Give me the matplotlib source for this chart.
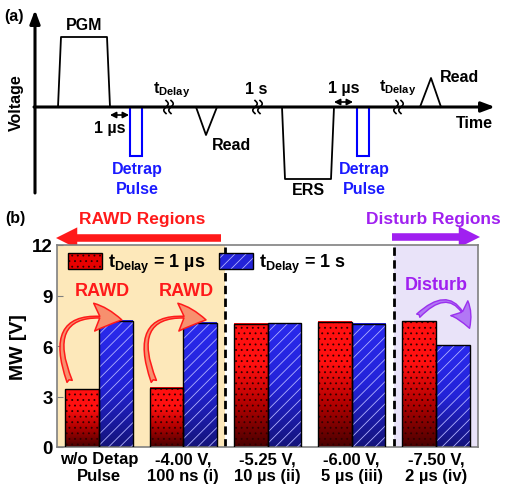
import numpy as np
import matplotlib
matplotlib.use('Agg')
import matplotlib.pyplot as plt
from matplotlib.patches import Patch, Rectangle
from matplotlib.colors import LinearSegmentedColormap

plt.rcParams['font.family'] = ['Liberation Sans', 'DejaVu Sans']
plt.rcParams['font.weight'] = 'bold'
plt.rcParams['hatch.linewidth'] = 0.6

# data for panel (b)
categories = ['w/o Detap\nPulse', '-4.00 V,\n100 ns (i)', '-5.25 V,\n10 µs (ii)',
              '-6.00 V,\n5 µs (iii)', '-7.50 V,\n2 µs (iv)']
mw_1us = [3.43, 3.52, 7.33, 7.43, 7.47]
mw_1s = [7.50, 7.37, 7.34, 7.31, 6.04]
yticks = [0, 3, 6, 9, 12]

RED = '#ff1a1a'
PURPLE = '#a020f0'
BLUE_TXT = '#1a1aff'
TD = r'$\mathregular{t_{Delay}}$'

fig = plt.figure(figsize=(5.09, 4.85), dpi=100)

# overlay in pixel coords for schematic (a) and headers of (b)
ax0 = fig.add_axes([0, 0, 1, 1])
ax0.set_xlim(0, 509)
ax0.set_ylim(485, 0)
ax0.axis('off')

fs_a = 11.5
ax0.text(4, 16, '(a)', fontsize=fs_a, ha='left', va='center')
ax0.annotate('', xy=(35, 11), xytext=(35, 194),
             arrowprops=dict(arrowstyle='-|>,head_length=0.8,head_width=0.3', lw=2.2, color='k', shrinkA=0, shrinkB=0))
ax0.annotate('', xy=(495, 108), xytext=(34, 108),
             arrowprops=dict(arrowstyle='-|>,head_length=0.8,head_width=0.3', lw=2.2, color='k', shrinkA=0, shrinkB=0))
ax0.text(16, 103, 'Voltage', fontsize=fs_a, rotation=90, ha='center', va='center')
ax0.text(474, 124, 'Time', fontsize=fs_a, ha='center', va='center')

# pulses
ax0.plot([58, 61, 107, 110], [108, 38, 38, 108], color='k', lw=1.3)
ax0.text(84, 26, 'PGM', fontsize=fs_a, ha='center', va='center')
ax0.add_patch(Rectangle((130, 108), 12, 49, fill=False, ec='#0000ff', lw=1.5))
ax0.add_patch(Rectangle((357, 108), 12, 49, fill=False, ec='#0000ff', lw=1.5))
for xc in [137, 364]:
    ax0.text(xc, 170, 'Detrap', fontsize=fs_a, color=BLUE_TXT, ha='center', va='center')
    ax0.text(xc, 190, 'Pulse', fontsize=fs_a, color=BLUE_TXT, ha='center', va='center')
ax0.plot([196, 206, 217], [108, 136, 108], color='k', lw=1.3)
ax0.text(212, 146, 'Read', fontsize=fs_a, ha='left', va='center')
ax0.plot([282, 285, 331, 334], [108, 180, 180, 108], color='k', lw=1.3)
ax0.text(308, 191, 'ERS', fontsize=fs_a, ha='center', va='center')
ax0.plot([420, 431, 441], [108, 79, 108], color='k', lw=1.3)
ax0.text(440, 77, 'Read', fontsize=fs_a, ha='left', va='center')

# 1 us spacings
ax0.annotate('', xy=(110, 116), xytext=(129, 116),
             arrowprops=dict(arrowstyle='<|-|>,head_length=0.35,head_width=0.18', lw=1.2, color='k', shrinkA=0, shrinkB=0))
ax0.text(110, 128, '1 µs', fontsize=fs_a, ha='center', va='center')
ax0.annotate('', xy=(334, 103), xytext=(353, 103),
             arrowprops=dict(arrowstyle='<|-|>,head_length=0.35,head_width=0.18', lw=1.2, color='k', shrinkA=0, shrinkB=0))
ax0.text(344, 88, '1 µs', fontsize=fs_a, ha='center', va='center')

# axis breaks
t = np.linspace(-1, 1, 40)
for xb in [166, 255, 396]:
    for dx in [0, 5]:
        ax0.plot(xb + dx - 2.2 * np.sin(np.pi * t), 108 + 6.5 * t, color='k', lw=1.2)
ax0.text(153, 90, TD, fontsize=fs_a, ha='left', va='center')
ax0.text(379, 88, TD, fontsize=fs_a, ha='left', va='center')
ax0.text(256, 90, '1 s', fontsize=fs_a, ha='center', va='center')

# headers of (b)
ax0.text(5, 219, '(b)', fontsize=fs_a, ha='left', va='center')
ax0.text(142, 220, 'RAWD Regions', fontsize=12.5, color=RED, ha='center', va='center')
ax0.annotate('', xy=(56, 239), xytext=(221, 239),
             arrowprops=dict(arrowstyle='simple,head_length=0.9,head_width=0.9,tail_width=0.32',
                             mutation_scale=17, color=RED, lw=0, shrinkA=0, shrinkB=0))
ax0.text(433, 220, 'Disturb Regions', fontsize=12.5, color=PURPLE, ha='center', va='center')
ax0.annotate('', xy=(480, 238), xytext=(392, 238),
             arrowprops=dict(arrowstyle='simple,head_length=0.9,head_width=0.9,tail_width=0.32',
                             mutation_scale=17, color=PURPLE, lw=0, shrinkA=0, shrinkB=0))

# panel (b)
ax = fig.add_axes([57 / 509, 37 / 485, 421 / 509, 202 / 485])
x = np.arange(len(categories))
w = 0.4
ax.axvspan(-0.5, 1.5, color='#fde8ba', zorder=0, lw=0)
ax.axvspan(3.5, 4.5, color='#e9e3f9', zorder=0, lw=0)

red_cmap = LinearSegmentedColormap.from_list('r', ['#480000', '#b00000', '#ff1010', '#ff1010'])
blue_cmap = LinearSegmentedColormap.from_list('b', ['#14147a', '#2323d8', '#2a2aee'])
grad = np.linspace(0, 1, 256).reshape(-1, 1)

bars_r = ax.bar(x - w / 2, mw_1us, w, fill=False, hatch='...', edgecolor='#300000', lw=0, zorder=3)
bars_b = ax.bar(x + w / 2, mw_1s, w, fill=False, hatch='///', edgecolor='#b0b0ff', lw=0, zorder=3)
for bars, cm in [(bars_r, red_cmap), (bars_b, blue_cmap)]:
    for r in bars:
        x0 = r.get_x()
        ax.imshow(grad, extent=(x0, x0 + r.get_width(), 0, r.get_height()), origin='lower',
                  cmap=cm, aspect='auto', zorder=2)
ax.bar(x - w / 2, mw_1us, w, fill=False, edgecolor='k', lw=1.0, zorder=4)
ax.bar(x + w / 2, mw_1s, w, fill=False, edgecolor='k', lw=1.0, zorder=4)

ax.axvline(1.5, color='k', ls=(0, (3, 1.6)), lw=2, zorder=1)
ax.axvline(3.5, color='k', ls=(0, (3, 1.6)), lw=2, zorder=1)

ax.set_xlim(-0.5, 4.5)
ax.set_ylim(0, 12)
ax.set_yticks(yticks)
ax.set_yticklabels([str(v) for v in yticks], fontsize=13.5)
ax.set_xticks(x)
ax.set_xticklabels(categories, fontsize=12, linespacing=1.15)
ax.tick_params(axis='x', length=0, pad=3)
ax.tick_params(axis='y', direction='in', length=4, color='#808080', pad=3)
for s in ax.spines.values():
    s.set_color('#808080')
    s.set_linewidth(1.2)
ax.set_ylabel('MW [V]', fontsize=14, fontweight='bold', labelpad=4)

# annotations
for g in [0, 1]:
    ax.text(g + 0.04, 9.27, 'RAWD', fontsize=13, color=RED, ha='center', va='center', zorder=6)
    ax.annotate('', xy=(g + 0.27, 7.55), xytext=(g - 0.35, 3.9),
                arrowprops=dict(arrowstyle='fancy,head_length=1.25,head_width=1.25,tail_width=0.25',
                                connectionstyle='arc3,rad=-0.9', mutation_scale=16,
                                fc='#f7906e', ec=RED, lw=1.1, shrinkA=0, shrinkB=0), zorder=6)
ax.text(4.01, 9.68, 'Disturb', fontsize=13, color=PURPLE, ha='center', va='center', zorder=6)
ax.annotate('', xy=(4.4, 7.05), xytext=(3.79, 7.8),
            arrowprops=dict(arrowstyle='fancy,head_length=1.25,head_width=1.25,tail_width=0.25',
                            connectionstyle='arc3,rad=-0.8', mutation_scale=13,
                            fc='#b277f5', ec='#9a30ee', lw=1.0, shrinkA=0, shrinkB=0), zorder=6)

# legend
h_r = (Patch(facecolor='#e80000', edgecolor='#300000', hatch='...', lw=0), Patch(fill=False, edgecolor='k', lw=1))
h_b = (Patch(facecolor='#2323d8', edgecolor='#b0b0ff', hatch='///', lw=0), Patch(fill=False, edgecolor='k', lw=1))
ax.legend([h_r, h_b], [TD + ' = 1 µs', TD + ' = 1 s'], ncol=2, frameon=False, loc='upper left',
          bbox_to_anchor=(0.0, 1.02), prop={'size': 13, 'weight': 'bold'}, handlelength=1.9,
          handleheight=1.0, handletextpad=0.35, columnspacing=0.7, borderaxespad=0.2)

fig.savefig('out.png', dpi=100)
